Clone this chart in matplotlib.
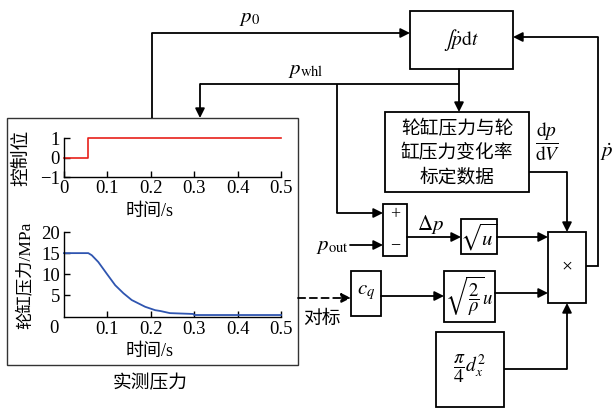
import matplotlib
matplotlib.use("Agg")
import matplotlib.pyplot as plt
from matplotlib.patches import Rectangle

plt.rcParams['font.family'] = ['Liberation Serif', 'Noto Sans CJK SC', 'DejaVu Sans']
plt.rcParams['mathtext.fontset'] = 'stix'

# Measured signals
ctrl_t = [0.0, 0.055, 0.055, 0.5]
ctrl_v = [0, 0, 1, 1]

press_t = [0.0, 0.056, 0.064, 0.079, 0.098, 0.118, 0.137, 0.156, 0.187,
           0.21, 0.222, 0.244, 0.298, 0.300, 0.5]
press_v = [15.0, 15.0, 14.5, 12.9, 10.2, 7.4, 5.5, 3.9, 2.3,
           1.5, 1.3, 0.8, 0.6, 0.35, 0.35]

x_ticks = [0.1, 0.2, 0.3, 0.4, 0.5]
x_tick_labels = ['0.1', '0.2', '0.3', '0.4', '0.5']
ctrl_ticks = [-1, 0, 1]
ctrl_tick_labels = ['\u22121', '0', '1']
press_ticks = [5, 10, 15, 20]
press_tick_labels = ['5', '10', '15', '20']

W, H = 616, 411
fig = plt.figure(figsize=(W / 100, H / 100), dpi=100)
ax = fig.add_axes([0, 0, 1, 1])
ax.set_xlim(0, W)
ax.set_ylim(H, 0)
ax.axis('off')

LW = 1.3
CJK = ['Noto Sans CJK SC']
TICK_FS = 13.5


def box(x0, y0, x1, y1, lw=LW):
    ax.add_patch(Rectangle((x0, y0), x1 - x0, y1 - y0, fill=False,
                           ec='black', lw=lw, zorder=3))


def path(pts, arrow=True, ls='-'):
    if len(pts) > 2:
        xs = [p[0] for p in pts[:-1]]
        ys = [p[1] for p in pts[:-1]]
        ax.plot(xs, ys, color='black', lw=LW, ls=ls, solid_capstyle='butt',
                solid_joinstyle='miter')
    a, b = pts[-2], pts[-1]
    ax.annotate('', xy=b, xytext=a,
                arrowprops=dict(arrowstyle='-|>' if arrow else '-', color='black',
                                lw=LW, ls=ls, mutation_scale=14,
                                shrinkA=0, shrinkB=0))


# Measurement panel frame
ax.add_patch(Rectangle((7, 118), 291, 247, fill=False, ec='#333333', lw=1.0))
ax.text(150, 383, '实测压力', ha='center', va='center', fontsize=13.5, family=CJK)

# Blocks
box(410, 11, 513, 69)
box(385, 112, 529, 192)
box(383, 204, 407, 256)
box(461, 219, 497, 254)
box(548, 232, 586, 303)
box(351, 271, 381, 316)
box(444, 271, 495, 322)
box(436, 332, 504, 407)

ax.text(461, 40, r'$\int\dot{p}\mathrm{d}t$', ha='center', va='center', fontsize=14)
for i, line in enumerate(['轮缸压力与轮', '缸压力变化率', '标定数据']):
    ax.text(457, 129 + 24 * i, line, ha='center', va='center', fontsize=13.5,
            family=CJK)
ax.text(395, 215, '+', ha='center', va='center', fontsize=13)
ax.text(395, 245, '\u2212', ha='center', va='center', fontsize=13)
ax.text(479, 237, r'$\sqrt{u}$', ha='center', va='center', fontsize=15)
ax.text(567, 267, '\u00d7', ha='center', va='center', fontsize=14)
ax.text(366, 292, r'$c_q$', ha='center', va='center', fontsize=15)
ax.text(469, 296, r'$\sqrt{\dfrac{2}{\rho}}u$', ha='center', va='center', fontsize=13.5)
ax.text(470, 369, r'$\dfrac{\pi}{4}d_x^2$', ha='center', va='center', fontsize=14)

# Signal labels
ax.text(250, 18, r'$p_0$', ha='center', va='center', fontsize=15)
ax.text(306, 71, r'$p_{\mathrm{whl}}$', ha='center', va='center', fontsize=15)
ax.text(548, 142, r'$\dfrac{\mathrm{d}p}{\mathrm{d}V}$', ha='center', va='center', fontsize=14)
ax.text(607, 152, r'$\dot{p}$', ha='center', va='center', fontsize=15)
ax.text(430, 224, r'$\Delta p$', ha='center', va='center', fontsize=15)
ax.text(332, 246, r'$p_{\mathrm{out}}$', ha='center', va='center', fontsize=15)
ax.text(322, 318, '对标', ha='center', va='center', fontsize=13.5, family=CJK)

# Connections
path([(152, 118), (152, 33), (410, 33)])
path([(459, 69), (459, 112)])
path([(459, 84), (200, 84), (200, 118)])
path([(337, 84), (337, 213), (383, 213)])
path([(529, 172), (567, 172), (567, 232)])
path([(350, 245), (383, 245)])
path([(407, 237), (461, 237)])
path([(497, 237), (548, 237)])
path([(586, 266), (598, 266), (598, 37), (513, 37)])
path([(298, 298), (351, 298)], ls=(0, (4, 2.5)))
path([(381, 296), (444, 296)])
path([(495, 293), (548, 293)])
path([(504, 369), (567, 369), (567, 303)])


def fig_rect(x0, y0, x1, y1):
    return [x0 / W, 1 - y1 / H, (x1 - x0) / W, (y1 - y0) / H]


def style(a):
    for s in ('top', 'right'):
        a.spines[s].set_visible(False)
    for s in ('left', 'bottom'):
        a.spines[s].set_linewidth(1.0)
    a.tick_params(direction='in', length=4, width=1.0, labelsize=TICK_FS, pad=2)
    a.patch.set_alpha(0)


# Control signal panel
a1 = fig.add_axes(fig_rect(64, 138, 281, 177))
a1.plot(ctrl_t, ctrl_v, color='#e8201a', lw=1.2, clip_on=False)
a1.set_xlim(0, 0.5)
a1.set_ylim(-1, 1)
a1.set_xticks([0] + x_ticks)
a1.set_xticklabels(['0'] + x_tick_labels)
a1.set_yticks(ctrl_ticks)
a1.set_yticklabels(ctrl_tick_labels)
style(a1)
a1.tick_params(axis='x', pad=2)
a1.tick_params(axis='y', pad=3)
ax.text(150, 211, '时间/s', ha='center', va='center', fontsize=13)
ax.text(21, 158, '控制位', ha='center', va='center', fontsize=13.5, rotation=90,
        family=CJK)

# Wheel-cylinder pressure panel
a2 = fig.add_axes(fig_rect(64, 232, 281, 316.5))
a2.plot(press_t, press_v, color='#2f55b0', lw=1.3, clip_on=False)
a2.set_xlim(0, 0.5)
a2.set_ylim(0, 20)
a2.set_xticks(x_ticks)
a2.set_xticklabels(x_tick_labels)
a2.set_yticks(press_ticks)
a2.set_yticklabels(press_tick_labels)
style(a2)
a2.tick_params(axis='x', pad=3)
a2.tick_params(axis='y', pad=3)
ax.text(54, 328, '0', ha='center', va='center', fontsize=TICK_FS)
ax.text(150, 351, '时间/s', ha='center', va='center', fontsize=13)
ax.text(25, 275, '轮缸压力/MPa', ha='center', va='center', fontsize=12.5, rotation=90)

fig.savefig('out.png', dpi=100)
